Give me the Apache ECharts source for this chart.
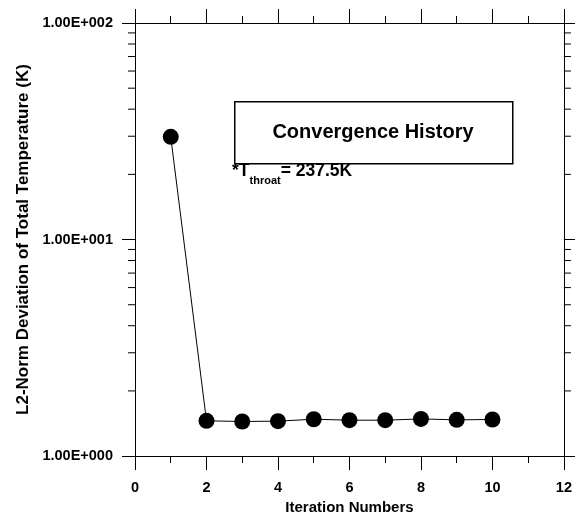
<!DOCTYPE html>
<html>
<head>
<meta charset="utf-8">
<script src="https://cdn.jsdelivr.net/npm/echarts@6/dist/echarts.min.js"></script>
<style>
html,body{margin:0;padding:0;background:#fff;}
#c{width:575px;height:520px;}
</style>
</head>
<body>
<div id="c"></div>
<script>
// ---- data ----
const iterations = [1, 2, 3, 4, 5, 6, 7, 8, 9, 10];
const l2NormDeviation = [29.8, 1.455, 1.445, 1.45, 1.48, 1.465, 1.465, 1.485, 1.47, 1.476];
const xMin = 0, xMax = 12, xInterval = 2;
const yMin = 1, yMax = 100;
const logMinorTickValues = [2, 3, 4, 5, 6, 7, 8, 9, 20, 30, 40, 50, 60, 70, 80, 90];
const xAxisTitle = 'Iteration Numbers';
const yAxisTitle = 'L2-Norm Deviation of Total Temperature (K)';
const boxTitle = 'Convergence History';
const noteMain = '*T';
const noteSub = 'throat';
const noteTail = '= 237.5K';

const FONT = '"Liberation Sans", Arial, Helvetica, sans-serif';

function sciLabel(v) {
  const e = Math.round(Math.log10(v));
  const m = v / Math.pow(10, e);
  return m.toFixed(2) + 'E' + (e >= 0 ? '+' : '-') + String(Math.abs(e)).padStart(3, '0');
}

const chart = echarts.init(document.getElementById('c'), null, {renderer: 'canvas'});

const axisLine = {show: true, onZero: false, lineStyle: {color: '#000', width: 1}};

const option = {
  backgroundColor: '#fff',
  animation: false,
  grid: {left: 135, right: 6, top: 23, bottom: 63, containLabel: false},
  xAxis: [
    {
      type: 'value', position: 'bottom', min: xMin, max: xMax, interval: xInterval,
      axisLine: axisLine,
      axisTick: {show: true, inside: false, length: 14, lineStyle: {color: '#000', width: 1}},
      minorTick: {show: true, splitNumber: 2, length: 7, lineStyle: {color: '#000', width: 1}},
      splitLine: {show: false},
      axisLabel: {margin: 24, color: '#000', fontFamily: FONT, fontWeight: 'bold', fontSize: 14.5},
      name: xAxisTitle, nameLocation: 'middle', nameGap: 40,
      nameTextStyle: {color: '#000', fontFamily: FONT, fontWeight: 'bold', fontSize: 15}
    },
    {
      type: 'value', position: 'top', min: xMin, max: xMax, interval: xInterval,
      axisLine: axisLine,
      axisTick: {show: true, inside: false, length: 14, lineStyle: {color: '#000', width: 1}},
      minorTick: {show: true, splitNumber: 2, length: 7, lineStyle: {color: '#000', width: 1}},
      splitLine: {show: false},
      axisLabel: {show: false}
    }
  ],
  yAxis: [
    {
      type: 'log', logBase: 10, position: 'left', min: yMin, max: yMax,
      axisLine: axisLine,
      axisTick: {show: true, inside: false, length: 13, lineStyle: {color: '#000', width: 1}},
      splitLine: {show: false},
      axisLabel: {margin: 22, color: '#000', fontFamily: FONT, fontWeight: 'bold', fontSize: 14.5, formatter: sciLabel},
      name: yAxisTitle, nameLocation: 'middle', nameGap: 101, nameRotate: 90,
      nameTextStyle: {color: '#000', fontFamily: FONT, fontWeight: 'bold', fontSize: 17}
    },
    {
      type: 'log', logBase: 10, position: 'right', min: yMin, max: yMax,
      axisLine: axisLine,
      axisTick: {show: true, inside: false, length: 13, lineStyle: {color: '#000', width: 1}},
      splitLine: {show: false},
      axisLabel: {show: false}
    }
  ],
  series: [
    {
      type: 'line', xAxisIndex: 0, yAxisIndex: 0,
      data: iterations.map((x, i) => [x, l2NormDeviation[i]]),
      symbol: 'circle', symbolSize: 16, showSymbol: true,
      itemStyle: {color: '#000'},
      lineStyle: {color: '#000', width: 1},
      z: 5
    },
    {
      // minor ticks of the log axes (left and right), placed via the axis scale
      type: 'custom', xAxisIndex: 0, yAxisIndex: 0, silent: true, clip: false,
      data: logMinorTickValues.map(v => [xMin, v]),
      encode: {x: 0, y: 1},
      renderItem: function (params, api) {
        const v = api.value(1);
        const pl = api.coord([xMin, v]);
        const pr = api.coord([xMax, v]);
        return {
          type: 'group',
          children: [
            {type: 'line', shape: {x1: pl[0] - 7, y1: pl[1], x2: pl[0], y2: pl[1]}, style: {stroke: '#000', lineWidth: 1}},
            {type: 'line', shape: {x1: pr[0], y1: pr[1], x2: pr[0] + 7, y2: pr[1]}, style: {stroke: '#000', lineWidth: 1}}
          ]
        };
      },
      z: 3
    }
  ],
  graphic: [
    {
      type: 'rect', left: 234, top: 101, z: 10,
      shape: {width: 278, height: 62},
      style: {fill: '#fff', stroke: '#000', lineWidth: 1.5}
    },
    {
      type: 'text', z: 11, x: 373, y: 132,
      style: {text: boxTitle, fill: '#000', font: 'bold 20px ' + FONT, align: 'center', verticalAlign: 'middle'}
    },
    {
      type: 'text', z: 11, x: 232, y: 162,
      style: {
        text: '{a|' + noteMain + '}{b|' + noteSub + '}{a|' + noteTail + '}',
        verticalAlign: 'top', align: 'left',
        rich: {
          a: {fontFamily: FONT, fontWeight: 'bold', fontSize: 17.5, lineHeight: 17, fill: '#000', verticalAlign: 'top'},
          b: {fontFamily: FONT, fontWeight: 'bold', fontSize: 11, lineHeight: 11, fill: '#000', verticalAlign: 'top', padding: [13, 0, 0, 0]}
        }
      }
    }
  ]
};
chart.setOption(option);
</script>
</body>
</html>
